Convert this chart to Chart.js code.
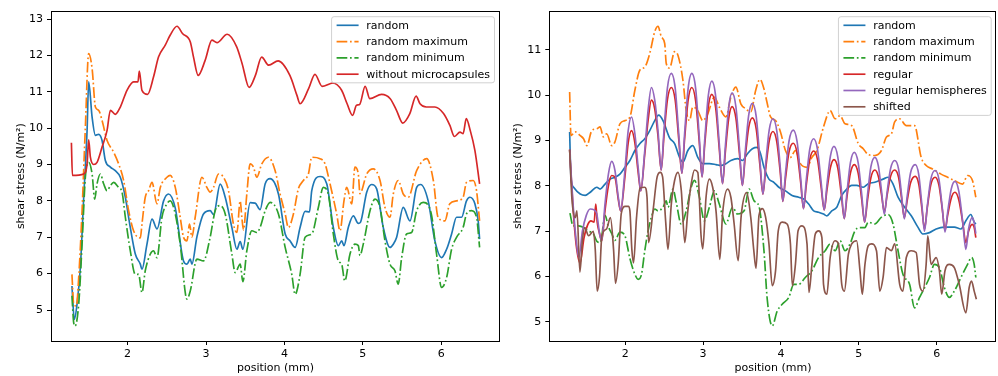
<!DOCTYPE html>
<html>
<head>
<meta charset="utf-8">
<script src="https://cdn.jsdelivr.net/npm/chart.js@4.4.0/dist/chart.umd.min.js"></script>
<style>
  html, body { margin: 0; padding: 0; background: #fff; }
  #left { position: absolute; left: 0; top: 0; }
  #right { position: absolute; left: 500px; top: 0; }
</style>
</head>
<body>
<canvas id="left" width="500" height="376"></canvas>
<canvas id="right" width="498" height="376"></canvas>
<script>
// ---- data: [position (mm), shear stress (N/m²)] ----
const leftLabels = ['random', 'random maximum', 'random minimum', 'without microcapsules'];
const rightLabels = ['random', 'random maximum', 'random minimum', 'regular', 'regular hemispheres', 'shifted'];
const xTicks = [2, 3, 4, 5, 6];
const leftYTicks = [5, 6, 7, 8, 9, 10, 11, 12, 13];
const rightYTicks = [5, 6, 7, 8, 9, 10, 11];

const leftRandom = [[1.29,5.66],[1.32,4.74],[1.355,5.16],[1.397,6.17],[1.44,8.10],[1.483,9.94],[1.503,11.27],[1.547,10.30],[1.589,9.80],[1.631,9.83],[1.674,9.66],[1.716,9.11],[1.78,8.93],[1.843,8.83],[1.907,8.65],[1.971,8.10],[2.034,7.27],[2.098,6.54],[2.162,6.26],[2.183,6.12],[2.247,6.81],[2.311,7.50],[2.375,7.23],[2.459,8.0],[2.522,8.19],[2.608,7.80],[2.713,6.35],[2.757,6.26],[2.799,6.40],[2.82,6.26],[2.884,7.01],[2.968,7.64],[3.053,7.73],[3.096,7.62],[3.181,8.46],[3.245,8.10],[3.33,7.27],[3.394,6.67],[3.436,6.88],[3.47,6.67],[3.563,7.95],[3.627,7.94],[3.69,7.76],[3.755,8.47],[3.818,8.61],[3.924,8.19],[4.01,7.09],[4.073,6.90],[4.137,6.72],[4.2,7.27],[4.264,7.71],[4.32,7.70],[4.349,8.28],[4.455,8.67],[4.54,8.47],[4.624,7.27],[4.688,6.77],[4.731,6.90],[4.76,6.77],[4.815,7.27],[4.879,7.59],[4.943,7.38],[4.97,7.41],[5.05,8.24],[5.113,8.45],[5.177,8.33],[5.261,7.27],[5.347,6.72],[5.389,6.81],[5.432,7.0],[5.516,7.82],[5.602,7.45],[5.687,8.37],[5.738,8.45],[5.834,8.0],[5.92,6.90],[6.005,6.44],[6.069,6.67],[6.133,7.09],[6.196,7.55],[6.26,7.55],[6.323,8.0],[6.366,8.10],[6.43,7.92],[6.472,7.45],[6.49,6.95]];
const leftMax = [[1.29,5.98],[1.312,5.16],[1.346,5.11],[1.376,5.89],[1.419,7.73],[1.461,10.03],[1.503,12.05],[1.547,11.64],[1.589,10.58],[1.631,10.49],[1.674,10.21],[1.738,9.66],[1.822,9.34],[1.885,9.02],[1.949,8.56],[2.013,7.73],[2.076,7.18],[2.162,6.98],[2.183,7.36],[2.225,8.10],[2.268,8.28],[2.311,8.51],[2.375,7.92],[2.417,8.37],[2.502,8.65],[2.544,8.70],[2.608,8.37],[2.671,7.55],[2.713,7.0],[2.757,6.90],[2.79,7.36],[2.82,7.0],[2.862,7.55],[2.948,8.65],[3.011,8.37],[3.053,8.24],[3.096,8.37],[3.159,8.74],[3.223,8.65],[3.287,8.28],[3.35,7.36],[3.394,7.13],[3.436,8.0],[3.457,7.55],[3.478,7.2],[3.521,8.2],[3.563,9.02],[3.605,8.93],[3.648,8.65],[3.712,9.02],[3.796,9.20],[3.882,8.83],[3.945,8.19],[4.01,7.64],[4.051,7.27],[4.115,7.64],[4.178,8.33],[4.242,8.56],[4.306,8.74],[4.349,9.20],[4.455,9.16],[4.518,9.02],[4.582,8.47],[4.667,7.64],[4.709,7.18],[4.76,8.0],[4.795,8.37],[4.859,7.92],[4.90,8.93],[4.943,8.74],[4.964,8.2],[5.05,8.74],[5.134,8.88],[5.22,8.56],[5.283,7.82],[5.347,7.55],[5.389,8.19],[5.452,8.56],[5.516,8.19],[5.58,8.10],[5.687,8.83],[5.815,9.16],[5.90,8.56],[5.96,7.55],[6.047,7.45],[6.11,7.92],[6.196,8.0],[6.28,8.10],[6.323,8.51],[6.408,8.56],[6.451,8.28],[6.49,7.45]];
const leftMin = [[1.29,5.39],[1.312,4.65],[1.33,4.56],[1.376,5.16],[1.419,6.81],[1.461,8.65],[1.503,9.06],[1.547,8.74],[1.58,8.05],[1.61,8.47],[1.652,8.74],[1.694,8.47],[1.738,8.28],[1.78,8.42],[1.822,8.51],[1.885,8.37],[1.929,8.24],[1.971,7.55],[2.034,6.63],[2.098,5.98],[2.14,5.98],[2.183,5.48],[2.225,6.08],[2.29,6.54],[2.331,6.63],[2.375,6.44],[2.438,7.55],[2.502,7.92],[2.544,8.0],[2.608,7.64],[2.671,6.81],[2.757,5.30],[2.799,5.52],[2.884,6.40],[2.968,6.35],[3.053,7.0],[3.117,7.73],[3.181,7.87],[3.245,7.64],[3.33,6.54],[3.372,6.03],[3.436,6.26],[3.47,5.78],[3.521,6.63],[3.585,7.18],[3.648,7.13],[3.69,7.27],[3.755,7.73],[3.818,7.96],[3.924,7.64],[4.01,6.72],[4.094,5.98],[4.137,5.43],[4.2,5.98],[4.264,7.0],[4.349,7.09],[4.433,7.82],[4.497,8.37],[4.56,8.19],[4.624,7.09],[4.688,6.35],[4.731,6.26],[4.77,5.80],[4.837,6.54],[4.90,6.81],[4.943,6.77],[4.964,6.5],[5.006,6.81],[5.092,7.73],[5.156,8.05],[5.22,7.82],[5.283,6.90],[5.347,6.26],[5.41,6.08],[5.452,5.71],[5.496,6.44],[5.559,7.09],[5.623,7.13],[5.687,7.73],[5.771,7.96],[5.874,7.64],[5.941,6.54],[6.005,5.62],[6.069,5.89],[6.133,6.67],[6.196,7.0],[6.28,7.27],[6.323,7.64],[6.387,7.73],[6.451,7.55],[6.49,6.72]];
const leftPlain = [[1.283,9.60],[1.296,8.70],[1.44,8.74],[1.483,9.02],[1.503,9.68],[1.525,9.20],[1.567,9.00],[1.61,9.06],[1.674,9.48],[1.738,9.94],[1.78,10.49],[1.843,10.38],[1.907,10.58],[1.992,11.04],[2.076,11.27],[2.132,11.27],[2.149,11.57],[2.183,11.04],[2.255,10.93],[2.331,11.41],[2.395,11.96],[2.48,12.28],[2.544,12.56],[2.63,12.80],[2.70,12.60],[2.80,12.37],[2.84,11.96],[2.90,11.45],[2.99,11.87],[3.075,12.42],[3.14,12.35],[3.27,12.58],[3.39,12.24],[3.46,11.78],[3.55,11.12],[3.63,11.45],[3.71,11.95],[3.80,11.73],[3.92,11.85],[4.07,11.45],[4.16,10.90],[4.20,10.67],[4.31,11.09],[4.39,11.48],[4.48,11.15],[4.62,11.24],[4.73,11.04],[4.80,10.67],[4.87,10.35],[4.92,10.63],[4.96,10.65],[5.03,11.15],[5.09,10.81],[5.24,10.93],[5.35,10.81],[5.43,10.49],[5.51,10.14],[5.60,10.40],[5.68,10.88],[5.73,10.67],[5.81,10.58],[5.92,10.58],[6.03,10.40],[6.11,10.08],[6.17,9.77],[6.24,9.89],[6.28,9.85],[6.32,10.26],[6.37,9.94],[6.43,9.39],[6.49,8.47]];

const rightRandom = [[1.286,9.19],[1.303,8.19],[1.337,7.97],[1.422,7.82],[1.486,7.79],[1.55,7.86],[1.635,7.97],[1.677,7.93],[1.741,8.04],[1.805,8.15],[1.868,8.19],[1.932,8.26],[1.996,8.41],[2.06,8.56],[2.124,8.78],[2.187,8.93],[2.251,9.04],[2.315,9.22],[2.379,9.44],[2.43,9.56],[2.485,9.44],[2.57,9.06],[2.634,8.93],[2.698,8.63],[2.741,8.52],[2.804,8.78],[2.868,8.89],[2.932,8.63],[2.996,8.49],[3.081,8.49],[3.166,8.47],[3.23,8.45],[3.293,8.49],[3.357,8.56],[3.442,8.60],[3.506,8.56],[3.57,8.71],[3.633,8.82],[3.697,8.85],[3.74,8.7],[3.782,8.41],[3.846,8.15],[3.909,8.08],[3.973,7.97],[4.058,7.89],[4.143,7.79],[4.228,7.75],[4.292,7.71],[4.356,7.60],[4.42,7.45],[4.483,7.42],[4.547,7.38],[4.59,7.34],[4.653,7.45],[4.717,7.53],[4.781,7.79],[4.845,7.93],[4.909,8.01],[4.972,8.01],[5.057,7.97],[5.121,8.05],[5.206,8.08],[5.312,8.15],[5.376,8.19],[5.44,8.04],[5.504,7.75],[5.589,7.53],[5.674,7.34],[5.759,7.09],[5.823,6.94],[5.908,6.97],[5.993,7.05],[6.099,7.09],[6.227,7.09],[6.312,7.05],[6.375,7.23],[6.439,7.37],[6.482,7.20],[6.503,7.16]];
const rightMax = [[1.286,10.07],[1.303,9.11],[1.358,9.19],[1.422,9.11],[1.465,9.04],[1.507,8.89],[1.571,9.22],[1.635,9.26],[1.677,9.30],[1.72,9.08],[1.762,9.15],[1.826,8.89],[1.868,8.97],[1.932,9.37],[1.996,9.44],[2.06,9.52],[2.124,10.11],[2.187,10.55],[2.251,10.62],[2.315,10.92],[2.379,11.40],[2.421,11.52],[2.464,11.29],[2.507,11.14],[2.527,10.70],[2.57,10.6],[2.634,10.96],[2.677,10.88],[2.741,10.33],[2.783,9.66],[2.826,9.44],[2.868,9.74],[2.932,9.66],[2.996,9.44],[3.06,9.59],[3.145,9.96],[3.208,9.74],[3.293,9.52],[3.357,9.96],[3.421,10.18],[3.485,9.81],[3.549,9.70],[3.612,9.63],[3.676,10.11],[3.73,10.35],[3.782,10.14],[3.82,9.85],[3.867,9.52],[3.931,9.44],[3.994,9.19],[4.058,8.78],[4.122,8.63],[4.186,8.78],[4.25,8.49],[4.335,8.41],[4.398,8.63],[4.462,8.78],[4.547,9.30],[4.632,9.66],[4.696,9.48],[4.76,9.55],[4.823,9.37],[4.909,9.33],[4.994,8.93],[5.057,8.82],[5.121,8.69],[5.206,8.67],[5.291,8.78],[5.355,9.08],[5.419,9.15],[5.461,9.41],[5.525,9.48],[5.61,9.33],[5.716,9.33],[5.801,8.63],[5.865,8.45],[5.95,8.37],[6.056,8.26],[6.141,8.19],[6.227,8.12],[6.333,8.04],[6.397,8.23],[6.46,8.12],[6.503,7.75]];
const rightMin = [[1.29,7.4],[1.33,7.12],[1.40,7.12],[1.47,7.08],[1.53,7.0],[1.59,6.95],[1.635,6.78],[1.68,6.75],[1.741,7.35],[1.784,7.1],[1.826,6.95],[1.868,6.8],[1.932,6.98],[1.996,6.9],[2.06,6.4],[2.124,6.05],[2.166,5.94],[2.209,6.05],[2.251,6.57],[2.294,7.01],[2.336,7.31],[2.379,7.49],[2.421,7.45],[2.485,7.53],[2.527,7.67],[2.549,7.53],[2.613,7.93],[2.655,7.64],[2.719,7.16],[2.783,7.45],[2.847,7.97],[2.89,8.12],[2.953,7.75],[3.017,7.23],[3.081,7.53],[3.145,7.89],[3.208,7.60],[3.293,7.16],[3.378,7.53],[3.442,7.38],[3.527,7.45],[3.591,7.93],[3.655,7.67],[3.718,7.55],[3.782,6.57],[3.824,5.5],[3.888,4.91],[3.952,5.24],[4.016,5.39],[4.101,5.54],[4.164,5.83],[4.228,5.83],[4.313,5.98],[4.398,6.13],[4.483,6.42],[4.568,6.57],[4.632,6.72],[4.696,6.57],[4.76,6.79],[4.823,6.57],[4.887,6.72],[4.951,7.01],[5.015,7.08],[5.079,7.08],[5.121,7.2],[5.206,7.16],[5.291,7.31],[5.376,7.37],[5.44,7.16],[5.504,6.57],[5.567,6.05],[5.652,5.83],[5.716,5.31],[5.78,5.54],[5.823,5.68],[5.908,5.98],[5.972,6.27],[6.035,6.20],[6.099,5.76],[6.163,5.54],[6.227,5.68],[6.312,5.98],[6.397,6.27],[6.448,6.42],[6.482,6.27],[6.503,5.98]];
const rightRegular = [[1.286,8.8],[1.33,7.5],[1.37,6.7],[1.42,6.3],[1.47,6.85],[1.52,7.15],[1.56,7.23],[1.60,7.2],[1.622,7.6],[1.64,7.2],[1.67,6.95],[1.698,6.79],[1.74,7.45],[1.784,8.0],[1.826,8.23],[1.868,8.19],[1.911,7.7],[1.941,7.45],[1.996,8.2],[2.038,8.95],[2.081,9.22],[2.124,8.95],[2.166,8.3],[2.2,7.89],[2.251,8.7],[2.294,9.45],[2.336,9.89],[2.379,9.7],[2.421,9.1],[2.462,8.35],[2.497,9.08],[2.542,9.9],[2.592,10.17],[2.642,9.89],[2.687,9.04],[2.728,8.28],[2.763,9.04],[2.808,9.89],[2.855,10.17],[2.905,9.87],[2.95,8.99],[2.987,8.2],[3.022,8.93],[3.067,9.75],[3.112,10.02],[3.162,9.72],[3.207,8.84],[3.25,8.05],[3.285,8.73],[3.33,9.5],[3.372,9.75],[3.422,9.49],[3.467,8.71],[3.505,8.01],[3.54,8.61],[3.585,9.28],[3.633,9.5],[3.683,9.25],[3.728,8.49],[3.769,7.82],[3.804,8.37],[3.849,8.99],[3.897,9.2],[3.947,8.97],[3.992,8.28],[4.024,7.66],[4.059,8.17],[4.104,8.75],[4.158,8.94],[4.208,8.72],[4.253,8.08],[4.29,7.5],[4.325,8.01],[4.37,8.58],[4.42,8.77],[4.47,8.58],[4.515,7.99],[4.556,7.47],[4.591,7.91],[4.636,8.41],[4.681,8.58],[4.731,8.39],[4.776,7.8],[4.813,7.28],[4.848,7.76],[4.893,8.29],[4.942,8.47],[4.992,8.28],[5.037,7.71],[5.075,7.2],[5.11,7.66],[5.155,8.18],[5.206,8.35],[5.251,8.21],[5.293,7.79],[5.328,7.42],[5.363,7.79],[5.408,8.21],[5.461,8.35],[5.511,8.19],[5.55,7.72],[5.585,7.3],[5.62,7.66],[5.665,8.07],[5.725,8.21],[5.77,8.04],[5.81,7.51],[5.844,7.05],[5.879,7.51],[5.924,8.02],[5.98,8.19],[6.03,8.01],[6.072,7.49],[6.107,7.02],[6.142,7.36],[6.187,7.73],[6.235,7.86],[6.285,7.69],[6.335,7.19],[6.375,6.75],[6.41,7.0],[6.455,7.15],[6.48,7.1],[6.503,6.86]];
const rightHemi = [[1.286,8.8],[1.33,7.6],[1.37,6.8],[1.405,6.42],[1.45,7.0],[1.50,7.35],[1.55,7.49],[1.60,7.47],[1.635,7.38],[1.67,6.95],[1.698,6.79],[1.74,7.6],[1.784,8.26],[1.826,8.54],[1.868,8.34],[1.911,7.75],[1.941,7.45],[1.996,8.34],[2.038,9.22],[2.081,9.52],[2.124,9.15],[2.166,8.41],[2.2,7.89],[2.251,8.78],[2.294,9.67],[2.336,10.17],[2.379,9.89],[2.421,9.22],[2.462,8.35],[2.497,9.20],[2.542,10.16],[2.592,10.48],[2.642,10.15],[2.687,9.16],[2.728,8.28],[2.763,9.16],[2.808,10.15],[2.855,10.48],[2.905,10.14],[2.95,9.11],[2.987,8.2],[3.022,9.04],[3.067,9.99],[3.112,10.31],[3.162,9.97],[3.207,8.95],[3.25,8.05],[3.285,8.85],[3.33,9.75],[3.372,10.05],[3.422,9.74],[3.467,8.83],[3.505,8.01],[3.54,8.73],[3.585,9.55],[3.633,9.82],[3.683,9.52],[3.728,8.62],[3.769,7.82],[3.804,8.48],[3.849,9.23],[3.897,9.48],[3.947,9.21],[3.992,8.39],[4.024,7.66],[4.059,8.29],[4.104,8.99],[4.158,9.23],[4.208,8.97],[4.253,8.19],[4.29,7.50],[4.325,8.12],[4.37,8.81],[4.42,9.04],[4.47,8.80],[4.515,8.10],[4.556,7.47],[4.591,8.03],[4.636,8.66],[4.681,8.87],[4.731,8.63],[4.776,7.92],[4.813,7.28],[4.848,7.86],[4.893,8.52],[4.942,8.74],[4.992,8.51],[5.037,7.82],[5.075,7.2],[5.11,7.77],[5.155,8.42],[5.206,8.63],[5.251,8.44],[5.293,7.87],[5.328,7.37],[5.363,7.85],[5.408,8.38],[5.461,8.56],[5.511,8.37],[5.55,7.79],[5.585,7.27],[5.62,7.75],[5.665,8.29],[5.725,8.47],[5.77,8.25],[5.81,7.59],[5.844,7.0],[5.879,7.54],[5.924,8.14],[5.98,8.34],[6.03,8.14],[6.072,7.52],[6.107,6.98],[6.142,7.43],[6.187,7.93],[6.235,8.10],[6.285,7.88],[6.335,7.2],[6.375,6.6],[6.41,7.05],[6.455,7.3],[6.48,7.2],[6.503,6.95]];
const rightShifted = [[1.286,8.8],[1.316,7.7],[1.358,7.3],[1.38,7.45],[1.418,6.1],[1.45,6.8],[1.48,7.08],[1.53,6.9],[1.59,7.0],[1.615,6.6],[1.64,5.68],[1.67,6.0],[1.70,6.9],[1.76,7.05],[1.81,7.3],[1.85,6.6],[1.875,5.85],[1.91,6.3],[1.95,7.4],[2.0,7.55],[2.04,7.55],[2.06,7.45],[2.085,6.6],[2.107,6.3],[2.145,7.3],[2.19,7.95],[2.25,7.97],[2.28,7.75],[2.30,6.75],[2.357,7.45],[2.41,8.2],[2.45,8.3],[2.48,8.2],[2.52,7.2],[2.549,6.6],[2.592,7.6],[2.634,8.12],[2.677,8.3],[2.72,7.9],[2.765,6.75],[2.804,7.45],[2.847,8.04],[2.89,8.35],[2.932,8.3],[2.974,6.9],[2.996,6.61],[3.038,7.75],[3.081,8.15],[3.123,7.97],[3.166,7.45],[3.215,6.38],[3.251,7.4],[3.315,7.93],[3.357,7.75],[3.399,7.16],[3.45,6.35],[3.49,7.35],[3.56,7.85],[3.612,7.31],[3.65,6.6],[3.68,6.18],[3.718,7.35],[3.761,7.5],[3.803,7.31],[3.846,6.72],[3.888,5.8],[3.931,6.13],[3.965,7.0],[4.016,7.2],[4.079,7.16],[4.122,6.72],[4.147,5.8],[4.186,6.27],[4.22,7.01],[4.271,7.12],[4.335,6.72],[4.36,5.65],[4.398,6.27],[4.441,6.94],[4.483,7.01],[4.526,6.86],[4.547,5.83],[4.59,5.61],[4.632,6.42],[4.696,6.79],[4.739,6.72],[4.781,5.83],[4.815,5.68],[4.866,6.49],[4.909,6.72],[4.972,6.79],[5.015,6.13],[5.045,5.61],[5.079,6.27],[5.121,6.68],[5.164,6.72],[5.227,6.57],[5.27,5.68],[5.312,5.98],[5.355,6.64],[5.419,6.57],[5.461,6.72],[5.525,5.83],[5.567,5.68],[5.61,6.42],[5.674,6.57],[5.737,6.53],[5.78,5.83],[5.823,5.68],[5.865,6.27],[5.886,6.9],[5.929,6.27],[5.993,6.42],[6.035,6.13],[6.065,5.61],[6.107,6.13],[6.163,6.27],[6.227,6.2],[6.29,5.83],[6.375,5.20],[6.418,5.76],[6.448,5.90],[6.482,5.68],[6.51,5.50]];

// ---- styling ----
const FONT = 'DejaVu Sans';
const BLUE = '#1f77b4', ORANGE = '#ff7f0e', GREEN = '#2ca02c', RED = '#d62728', PURPLE = '#9467bd', BROWN = '#8c564b';
const dashDot = [10.7, 2.7, 1.7, 2.7];

const leftSeries = [
  { points: leftRandom, color: BLUE, dash: false },
  { points: leftMax, color: ORANGE, dash: true },
  { points: leftMin, color: GREEN, dash: true },
  { points: leftPlain, color: RED, dash: false }
];
const rightSeries = [
  { points: rightRandom, color: BLUE, dash: false },
  { points: rightMax, color: ORANGE, dash: true },
  { points: rightMin, color: GREEN, dash: true },
  { points: rightRegular, color: RED, dash: false },
  { points: rightHemi, color: PURPLE, dash: false },
  { points: rightShifted, color: BROWN, dash: false }
];

// matplotlib-like autoscale: data range plus 5% margins
function extent(series, k) {
  let lo = Infinity, hi = -Infinity;
  series.forEach(s => s.points.forEach(p => { lo = Math.min(lo, p[k]); hi = Math.max(hi, p[k]); }));
  const pad = (hi - lo) * 0.05;
  return [lo - pad, hi + pad];
}

// axes box on top of the lines
const framePlugin = {
  id: 'frame',
  afterDatasetsDraw(chart) {
    const { ctx, chartArea: a } = chart;
    ctx.save();
    ctx.setLineDash([]);
    ctx.strokeStyle = '#000';
    ctx.lineWidth = 1;
    ctx.strokeRect(Math.round(a.left) + 0.5, Math.round(a.top) + 0.5,
                   Math.round(a.right - a.left) - 1, Math.round(a.bottom - a.top));
    ctx.restore();
  }
};

// legend box in the upper right corner of the axes
const boxLegend = {
  id: 'boxLegend',
  afterDatasetsDraw(chart) {
    const { ctx, chartArea: a } = chart;
    const sets = chart.data.datasets;
    ctx.save();
    ctx.font = '11px "' + FONT + '"';
    const textW = Math.max(...sets.map(d => ctx.measureText(d.label).width));
    const rowH = 16.3;
    const w = 5 + 22 + 7.7 + textW + 4.5;
    const h = 8.6 * 2 + rowH * (sets.length - 1);
    const x0 = a.right - 5.5 - w, y0 = a.top + 5.4;
    ctx.beginPath();
    ctx.roundRect(x0, y0, w, h, 2.5);
    ctx.fillStyle = 'rgba(255,255,255,0.8)';
    ctx.fill();
    ctx.strokeStyle = 'rgba(204,204,204,0.9)';
    ctx.lineWidth = 1;
    ctx.stroke();
    sets.forEach((d, i) => {
      const cy = y0 + 8.6 + i * rowH;
      ctx.beginPath();
      ctx.setLineDash(d.borderDash || []);
      ctx.strokeStyle = d.borderColor;
      ctx.lineWidth = d.borderWidth;
      ctx.moveTo(x0 + 5, cy);
      ctx.lineTo(x0 + 27, cy);
      ctx.stroke();
      ctx.setLineDash([]);
      ctx.fillStyle = '#000';
      ctx.textBaseline = 'middle';
      ctx.fillText(d.label, x0 + 34.7, cy + 0.5);
    });
    ctx.restore();
  }
};

function makeChart(id, series, labels, yTicks, yWidth, titlePad, padRight) {
  const xr = extent(series, 0), yr = extent(series, 1);
  const datasets = series.map((s, i) => ({
    label: labels[i],
    data: s.points.map(p => ({ x: p[0], y: p[1] })),
    borderColor: s.color,
    borderWidth: 1.67,
    borderDash: s.dash ? dashDot : [],
    pointRadius: 0,
    fill: false,
    cubicInterpolationMode: 'monotone',
    order: series.length - i
  }));
  const tickFont = { family: FONT, size: 11 };
  return new Chart(document.getElementById(id), {
    type: 'line',
    data: { datasets },
    options: {
      responsive: false,
      animation: false,
      devicePixelRatio: 1,
      layout: { padding: { left: 0, right: padRight, top: 11.3, bottom: 0 } },
      plugins: { legend: { display: false }, tooltip: { enabled: false } },
      scales: {
        x: {
          type: 'linear', min: xr[0], max: xr[1],
          afterBuildTicks: s => { s.ticks = xTicks.map(v => ({ value: v })); },
          afterFit: s => { s.height = 35; },
          grid: { drawOnChartArea: false, drawTicks: true, tickLength: 4, color: '#000' },
          border: { display: false },
          ticks: { color: '#000', font: tickFont, padding: 3, maxRotation: 0 },
          title: { display: true, text: 'position (mm)', color: '#000', font: tickFont, padding: { top: 0, bottom: 1.4 } }
        },
        y: {
          type: 'linear', min: yr[0], max: yr[1],
          afterBuildTicks: s => { s.ticks = yTicks.map(v => ({ value: v })); },
          afterFit: s => { s.width = yWidth; },
          grid: { drawOnChartArea: false, drawTicks: true, tickLength: 4, color: '#000' },
          border: { display: false },
          ticks: { color: '#000', font: tickFont, padding: 4 },
          title: { display: true, text: 'shear stress (N/m²)', color: '#000', font: tickFont, padding: { top: titlePad, bottom: 0 } }
        }
      }
    },
    plugins: [framePlugin, boxLegend]
  });
}

makeChart('left', leftSeries, leftLabels, leftYTicks, 51, 14.4, 0);
makeChart('right', rightSeries, rightLabels, rightYTicks, 49.3, 11.7, 1.3);
</script>
</body>
</html>
